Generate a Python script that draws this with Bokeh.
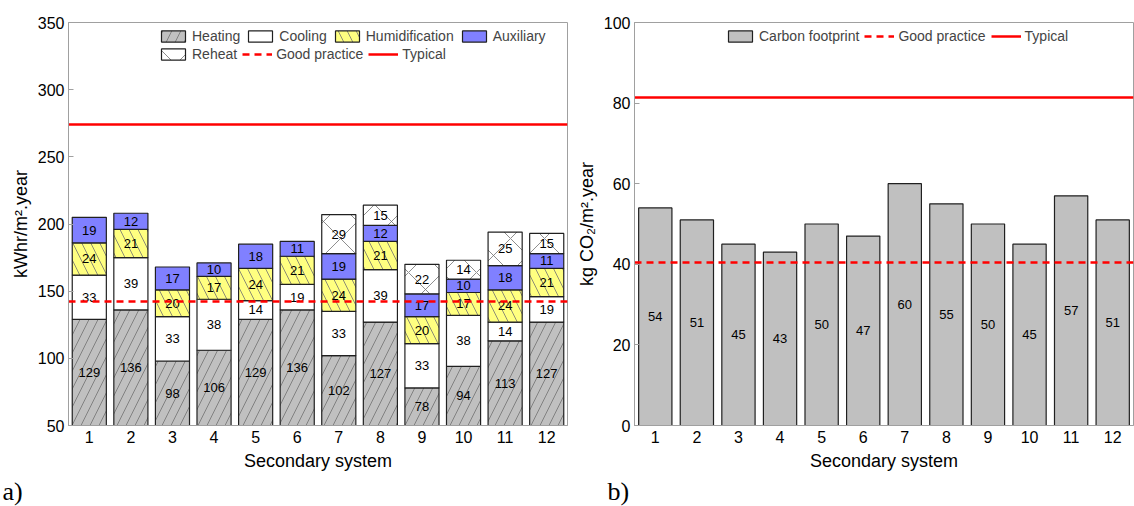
import numpy as np
from bokeh.plotting import figure
from bokeh.layouts import row
from bokeh.models import Legend, LegendItem, Title, FixedTicker, Range1d, ColumnDataSource
from bokeh.core.properties import value
from bokeh.embed import file_html
from bokeh.resources import INLINE

systems = [1, 2, 3, 4, 5, 6, 7, 8, 9, 10, 11, 12]
heating = [129, 136, 98, 106, 129, 136, 102, 127, 78, 94, 113, 127]
cooling = [33, 39, 33, 38, 14, 19, 33, 39, 33, 38, 14, 19]
humidification = [24, 21, 20, 17, 24, 21, 24, 21, 20, 17, 24, 21]
auxiliary = [19, 12, 17, 10, 18, 11, 19, 12, 17, 10, 18, 11]
reheat = [0, 0, 0, 0, 0, 0, 29, 15, 22, 14, 25, 15]
carbon = [54, 51, 45, 43, 50, 47, 60, 55, 50, 45, 57, 51]
energy_good_practice = [142]
energy_typical = [274]
carbon_good_practice = [40.5]
carbon_typical = [81.5]
energy_ticks = [50, 100, 150, 200, 250, 300, 350]
carbon_ticks = [0, 20, 40, 60, 80, 100]

FONT = "Liberation Sans"
AXC = "#a0a0a0"
H = 506


def style(p):
    p.outline_line_color = AXC
    p.outline_line_width = 1
    p.xgrid.grid_line_color = None
    p.ygrid.grid_line_color = None
    p.background_fill_color = "white"
    for ax in (p.xaxis[0], p.yaxis[0]):
        ax.axis_line_color = AXC
        ax.major_label_text_font = FONT
        ax.major_label_text_font_size = "16px"
        ax.major_label_text_color = "black"
        ax.axis_label_text_font = FONT
        ax.axis_label_text_font_size = "18px"
        ax.axis_label_text_font_style = "normal"
        ax.axis_label_text_color = "black"
        ax.minor_tick_line_color = None
    p.xaxis.major_tick_line_color = None
    p.xaxis.major_tick_in = 0
    p.xaxis.major_tick_out = 0
    p.xaxis.major_label_standoff = 5
    p.xaxis.axis_label_standoff = 5
    p.yaxis.major_tick_in = 5
    p.yaxis.major_tick_out = 0
    p.yaxis.major_tick_line_color = AXC
    p.yaxis.major_label_standoff = 4
    p.yaxis.axis_label_standoff = 4
    p.xaxis.ticker = FixedTicker(ticks=systems)


def make_legend(items, x, y):
    return Legend(items=items, orientation="horizontal", location=(x, y),
                  label_text_font=FONT, label_text_font_size="14px",
                  glyph_width=30, glyph_height=14, label_height=14, label_width=10,
                  label_standoff=4, spacing=5, padding=0, margin=0,
                  border_line_color=None, background_fill_alpha=0)


def panel_tag(p, text, offset):
    p.add_layout(Title(text=text, align="left", offset=offset, standoff=2,
                       text_font="Liberation Serif", text_font_size="26px",
                       text_font_style="normal", text_color="black"), "below")


# ---------------- panel a ----------------
pa = figure(width=572, height=H, output_backend="svg", toolbar_location=None,
            x_range=Range1d(0.5, 12.5), y_range=Range1d(energy_ticks[0], energy_ticks[-1]),
            min_border_left=68, min_border_right=5, min_border_top=22, min_border_bottom=79)
style(pa)
pa.yaxis.ticker = FixedTicker(ticks=energy_ticks)
pa.xaxis.axis_label = "Secondary system"
pa.yaxis.axis_label = "kWhr/m\u00b2.year"

series = [
    ("Heating", heating, "#c0c0c0", "right_diagonal_line", 18),
    ("Cooling", cooling, "white", None, 0),
    ("Humidification", humidification, "#ffff80", "left_diagonal_line", 18),
    ("Auxiliary", auxiliary, "#8080ff", None, 0),
    ("Reheat", reheat, "white", "diagonal_cross", 34),
]
ymin = energy_ticks[0]
bottom = np.zeros(len(systems))
items = []
for name, vals, color, hatch, hs in series:
    v = np.array(vals, dtype=float)
    mask = v > 0
    top = bottom + v
    mid = (np.maximum(bottom, ymin) + top) / 2
    src = ColumnDataSource(dict(
        x=np.array(systems)[mask], bottom=bottom[mask], top=top[mask],
        mid=mid[mask], lab=[str(int(t)) for t in v[mask]]))
    kw = dict(hatch_pattern=hatch, hatch_color="#707070", hatch_scale=hs, hatch_weight=0.8) if hatch else {}
    r = pa.vbar(x="x", bottom="bottom", top="top", width=0.82, source=src,
                fill_color=color, line_color="#202020", line_width=1.2, **kw)
    pa.text(x="x", y="mid", text="lab", source=src, text_align="center",
            text_baseline="middle", text_font=value(FONT), text_font_size="13px",
            text_color="black")
    items.append(LegendItem(label=name, renderers=[r]))
    bottom = top

gp = pa.hspan(y=energy_good_practice, line_color="red", line_width=2.5, line_dash="7 5")
ty = pa.hspan(y=energy_typical, line_color="red", line_width=2.5)
items.append(LegendItem(label="Good practice", renderers=[gp]))
items.append(LegendItem(label="Typical", renderers=[ty]))

panel_tag(pa, "a)", -66)
pa.add_layout(make_legend(items[:4], 90, 381))
pa.add_layout(make_legend(items[4:], 90, 363))

# ---------------- panel b ----------------
pb = figure(width=562, height=H, output_backend="svg", toolbar_location=None,
            x_range=Range1d(0.5, 12.5), y_range=Range1d(carbon_ticks[0], carbon_ticks[-1]),
            min_border_left=62, min_border_right=1, min_border_top=22, min_border_bottom=79)
style(pb)
pb.yaxis.ticker = FixedTicker(ticks=carbon_ticks)
pb.xaxis.axis_label = "Secondary system"
pb.yaxis.axis_label = "kg CO\u2082/m\u00b2.year"

c = np.array(carbon, dtype=float)
srcb = ColumnDataSource(dict(x=systems, top=c, mid=c / 2, lab=[str(int(t)) for t in c]))
rb = pb.vbar(x="x", bottom=0, top="top", width=0.8, source=srcb,
             fill_color="#c0c0c0", line_color="#202020", line_width=1.2)
pb.text(x="x", y="mid", text="lab", source=srcb, text_align="center",
        text_baseline="middle", text_font=value(FONT), text_font_size="13px",
        text_color="black")
gpb = pb.hspan(y=carbon_good_practice, line_color="red", line_width=2.5, line_dash="7 5")
tyb = pb.hspan(y=carbon_typical, line_color="red", line_width=2.5)
panel_tag(pb, "b)", -27)
pb.add_layout(make_legend([LegendItem(label="Carbon footprint", renderers=[rb]),
                           LegendItem(label="Good practice", renderers=[gpb]),
                           LegendItem(label="Typical", renderers=[tyb])], 91, 381))

layout = row(pa, pb)
open("out.html", "w").write(file_html(layout, INLINE))
